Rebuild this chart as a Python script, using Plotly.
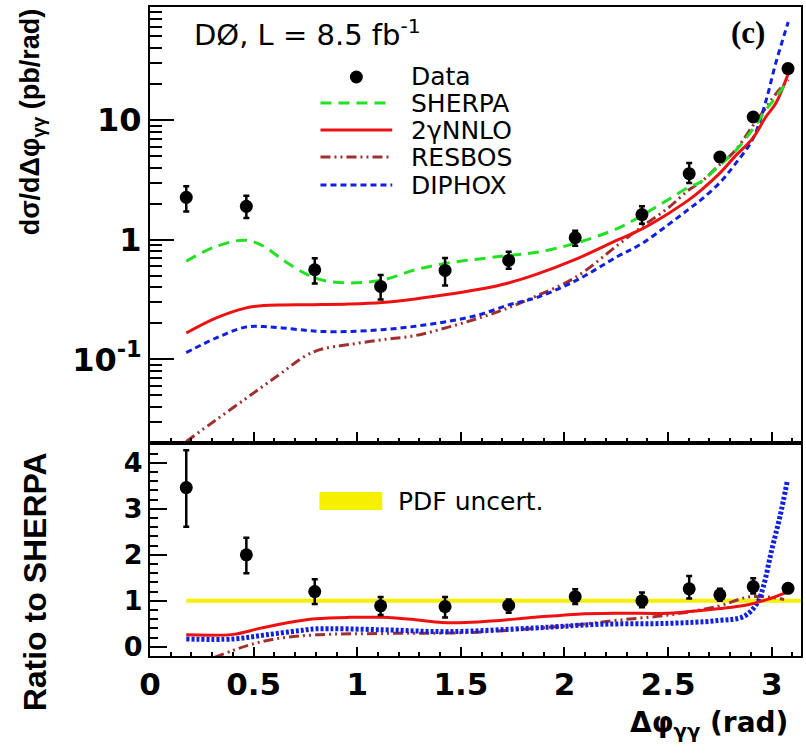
import math
import plotly.graph_objects as go

# ---- measured data: diphoton azimuthal separation ----
X_DATA = [0.175, 0.465, 0.795, 1.113, 1.424, 1.731, 2.052, 2.374, 2.602, 2.750, 2.911, 3.079]
XSEC = [2.26, 1.90, 0.561, 0.407, 0.554, 0.671, 1.04, 1.62, 3.56, 4.91, 10.6, 26.9]
XSEC_ERR_UP = [0.53, 0.43, 0.14, 0.10, 0.15, 0.12, 0.15, 0.28, 0.82, 0.45, 0.9, 1.5]
XSEC_ERR_DN = [0.54, 0.38, 0.13, 0.09, 0.14, 0.10, 0.15, 0.26, 0.58, 0.40, 0.8, 1.4]

RATIO = [3.46, 2.00, 1.20, 0.89, 0.875, 0.90, 1.09, 1.00, 1.26, 1.13, 1.31, 1.27]
RATIO_ERR_UP = [0.81, 0.37, 0.27, 0.19, 0.21, 0.13, 0.16, 0.18, 0.28, 0.13, 0.18, 0.08]
RATIO_ERR_DN = [0.85, 0.40, 0.27, 0.20, 0.24, 0.16, 0.16, 0.14, 0.21, 0.13, 0.15, 0.08]

# ---- theory predictions (pb/rad) ----
X_TH = [0.175, 0.32, 0.46, 0.55, 0.64, 0.75, 0.83, 0.96, 1.12, 1.28, 1.44, 1.59, 1.73,
        1.86, 2.05, 2.26, 2.37, 2.50, 2.60, 2.66, 2.75, 2.82, 2.91, 2.97, 3.02, 3.08]
SHERPA = [0.66, 0.88, 0.99, 0.88, 0.68, 0.52, 0.46, 0.435, 0.46, 0.56, 0.64, 0.69, 0.74,
          0.78, 0.93, 1.25, 1.58, 2.16, 2.75, 3.05, 4.2, 5.4, 8.4, 12.0, 15.5, 21.5]
NNLO = [0.166, 0.222, 0.268, 0.282, 0.285, 0.286, 0.287, 0.29, 0.299, 0.32, 0.35, 0.385, 0.435,
        0.51, 0.68, 1.0, 1.22, 1.65, 2.15, 2.6, 3.6, 4.9, 7.1, 10.5, 13.8, 24.5]
RESBOS = [0.0206, 0.0313, 0.0467, 0.0604, 0.0782, 0.107, 0.122, 0.133, 0.146, 0.158, 0.186, 0.222, 0.27,
          0.336, 0.48, 0.91, 1.27, 1.84, 2.6, 3.05, 4.24, 5.45, 9.0, 12.5, 16.5, 21.7]
DIPHOX = [0.114, 0.151, 0.186, 0.188, 0.183, 0.175, 0.171, 0.171, 0.177, 0.189, 0.208, 0.236, 0.285,
          0.326, 0.45, 0.73, 0.92, 1.33, 1.8, 2.16, 3.0, 4.2, 7.0, 14.0, 30.0, 66.0]

# ---- predictions relative to SHERPA ----
X_R_NNLO = [0.175, 0.40, 0.53, 0.67, 0.80, 0.96, 1.12, 1.28, 1.41, 1.585, 1.857, 2.065, 2.257,
            2.50, 2.657, 2.88, 2.98, 3.074]
R_NNLO = [0.26, 0.27, 0.40, 0.53, 0.61, 0.64, 0.64, 0.59, 0.53, 0.54, 0.64, 0.71, 0.73,
          0.73, 0.79, 0.91, 1.03, 1.19]
X_R_DIPHOX = [0.175, 0.40, 0.56, 0.72, 0.80, 1.12, 1.44, 1.857, 2.177, 2.50, 2.74, 2.866,
              2.93, 2.96, 3.00, 3.04, 3.075]
R_DIPHOX = [0.17, 0.17, 0.26, 0.35, 0.39, 0.37, 0.33, 0.41, 0.49, 0.51, 0.57, 0.66,
            0.95, 1.31, 2.1, 2.83, 3.59]
X_R_RESBOS = [0.31, 0.40, 0.48, 0.60, 0.80, 1.12, 1.54, 1.86, 2.065, 2.26, 2.50, 2.74, 2.90, 3.06]
R_RESBOS = [-0.23, -0.08, 0.04, 0.17, 0.26, 0.29, 0.31, 0.40, 0.48, 0.58, 0.69, 0.88, 1.09, 1.03]

# PDF uncertainty band around unity
PDF_X = [0.175, math.pi]
PDF_LO = [0.955, 0.955]
PDF_HI = [1.045, 1.045]

GREEN = "#22e022"
RED = "#ee1111"
BROWN = "#a03030"
BLUE = "#1020e0"
YELLOW = "#f5f000"

# pixel frame of the two stacked pads
W, H = 806, 755
L, R, T, B = 150, 803, 7, 656
SPLIT = 443


def px_x(p):
    return (p - L) / (R - L)


def px_y(p):
    return (B - p) / (B - T)


fig = go.Figure()

# ---- upper pad ----
fig.add_trace(go.Scatter(x=X_TH, y=RESBOS, mode="lines", line_shape="spline",
                         line=dict(color=BROWN, width=3, dash="10px,4px,2px,4px,2px,4px"),
                         xaxis="x", yaxis="y"))
fig.add_trace(go.Scatter(x=X_TH, y=DIPHOX, mode="lines", line_shape="spline",
                         line=dict(color=BLUE, width=3, dash="6px,4px"),
                         xaxis="x", yaxis="y"))
fig.add_trace(go.Scatter(x=X_TH, y=NNLO, mode="lines", line_shape="spline",
                         line=dict(color=RED, width=3), xaxis="x", yaxis="y"))
fig.add_trace(go.Scatter(x=X_TH, y=SHERPA, mode="lines", line_shape="spline",
                         line=dict(color=GREEN, width=3, dash="11px,7px"),
                         xaxis="x", yaxis="y"))
fig.add_trace(go.Scatter(x=X_DATA, y=XSEC, mode="markers",
                         marker=dict(color="black", size=13),
                         error_y=dict(type="data", array=XSEC_ERR_UP, arrayminus=XSEC_ERR_DN,
                                      color="black", thickness=2.5, width=3),
                         xaxis="x", yaxis="y"))

# ---- lower pad ----
fig.add_trace(go.Scatter(x=PDF_X, y=PDF_LO, mode="lines", line=dict(width=0, color=YELLOW),
                         xaxis="x2", yaxis="y2"))
fig.add_trace(go.Scatter(x=PDF_X, y=PDF_HI, mode="lines", line=dict(width=0, color=YELLOW),
                         fill="tonexty", fillcolor=YELLOW, xaxis="x2", yaxis="y2"))
fig.add_trace(go.Scatter(x=X_R_RESBOS, y=R_RESBOS, mode="lines", line_shape="spline",
                         line=dict(color=BROWN, width=3, dash="10px,4px,2px,4px,2px,4px"),
                         xaxis="x2", yaxis="y2"))
fig.add_trace(go.Scatter(x=X_R_DIPHOX, y=R_DIPHOX, mode="lines", line_shape="spline",
                         line=dict(color=BLUE, width=5, dash="3px,2px"),
                         xaxis="x2", yaxis="y2"))
fig.add_trace(go.Scatter(x=X_R_NNLO, y=R_NNLO, mode="lines", line_shape="spline",
                         line=dict(color=RED, width=3), xaxis="x2", yaxis="y2"))
fig.add_trace(go.Scatter(x=X_DATA, y=RATIO, mode="markers",
                         marker=dict(color="black", size=13),
                         error_y=dict(type="data", array=RATIO_ERR_UP, arrayminus=RATIO_ERR_DN,
                                      color="black", thickness=2.5, width=3),
                         xaxis="x2", yaxis="y2"))

split = px_y(SPLIT)
axis_common = dict(showline=True, mirror=True, linecolor="black", linewidth=2,
                   showgrid=False, zeroline=False, ticks="inside", tickcolor="black",
                   tickwidth=1.5)

fig.update_layout(
    width=W, height=H,
    margin=dict(l=L, r=W - R, t=T, b=H - B),
    paper_bgcolor="white", plot_bgcolor="white",
    showlegend=False,
    xaxis=dict(axis_common, domain=[0, 1], anchor="y", range=[0, math.pi],
               matches="x2", showticklabels=False, dtick=0.5, tick0=0, ticklen=11,
               minor=dict(ticks="inside", dtick=0.1, tick0=0, ticklen=5,
                          tickcolor="black", tickwidth=1.5)),
    yaxis=dict(axis_common, domain=[split, 1], anchor="x", type="log",
               range=[math.log10(0.02), math.log10(88)],
               tickmode="array", tickvals=[0.1, 1, 10],
               ticktext=["10<sup>-1</sup>", "1", "10"], ticklen=24,
               tickfont=dict(family="DejaVu Sans", size=32, weight="bold", color="black"),
               minor=dict(ticks="inside", ticklen=12, tickcolor="black", tickwidth=1.5,
                          tickmode="array",
                          tickvals=[0.02, 0.03, 0.04, 0.05, 0.06, 0.07, 0.08, 0.09,
                                    0.2, 0.3, 0.4, 0.5, 0.6, 0.7, 0.8, 0.9,
                                    2, 3, 4, 5, 6, 7, 8, 9,
                                    20, 30, 40, 50, 60, 70, 80])),
    xaxis2=dict(axis_common, domain=[0, 1], anchor="y2", range=[0, math.pi],
                ticklen=9, tickmode="array",
                tickvals=[0, 0.5, 1, 1.5, 2, 2.5, 3],
                ticktext=["0", "0.5", "1", "1.5", "2", "2.5", "3"],
                tickfont=dict(family="DejaVu Sans", size=31, weight="bold", color="black"),
                minor=dict(ticks="inside", dtick=0.1, tick0=0, ticklen=4,
                           tickcolor="black", tickwidth=1.5)),
    yaxis2=dict(axis_common, domain=[0, split], anchor="x2", range=[-0.2, 4.43],
                tickmode="array", tickvals=[0, 1, 2, 3, 4], ticklen=17,
                tickfont=dict(family="DejaVu Sans", size=27, weight="bold", color="black"),
                minor=dict(ticks="inside", dtick=0.2, tick0=0, ticklen=8,
                           tickcolor="black", tickwidth=1.5)),
)

ann = []


def text(x, y, s, size, family="DejaVu Sans", xanchor="left", angle=0, weight="normal"):
    ann.append(dict(xref="paper", yref="paper", x=px_x(x), y=px_y(y), text=s,
                    showarrow=False, xanchor=xanchor, yanchor="middle", textangle=angle,
                    font=dict(family=family, size=size, color="black", weight=weight)))


text(192, 33, "DØ, L = 8.5 fb<sup>-1</sup>", 29)
text(750, 32, "(c)", 31, family="Liberation Serif", xanchor="center", weight="bold")

# legend of the upper pad
LEG_X0, LEG_X1, LEG_TX = 321, 393, 410
rows = [("Data", 77), ("SHERPA", 103), ("2γNNLO", 130), ("RESBOS", 157), ("DIPHOX", 185)]
for label, yy in rows:
    text(LEG_TX, yy, label, 25)

shapes = []
styles = {"SHERPA": (GREEN, "11px,7px"), "2γNNLO": (RED, "solid"),
          "RESBOS": (BROWN, "10px,4px,2px,4px,2px,4px"), "DIPHOX": (BLUE, "6px,4px")}
for label, yy in rows[1:]:
    c, d = styles[label]
    shapes.append(dict(type="line", xref="paper", yref="paper",
                       x0=px_x(LEG_X0), x1=px_x(LEG_X1), y0=px_y(yy), y1=px_y(yy),
                       line=dict(color=c, width=3, dash=d)))
shapes.append(dict(type="circle", xref="paper", yref="paper",
                   x0=px_x(357 - 6.5), x1=px_x(357 + 6.5), y0=px_y(77 + 6.5), y1=px_y(77 - 6.5),
                   fillcolor="black", line=dict(color="black", width=0)))

# legend of the lower pad
shapes.append(dict(type="rect", xref="paper", yref="paper",
                   x0=px_x(320), x1=px_x(383), y0=px_y(510), y1=px_y(492),
                   fillcolor=YELLOW, line=dict(width=0)))
text(397, 501, "PDF uncert.", 25)

# axis titles
ann.append(dict(xref="paper", yref="paper", x=px_x(32), y=px_y(122),
                text="<b>dσ/dΔφ<sub>γγ</sub> (pb/rad)</b>", showarrow=False,
                xanchor="center", yanchor="middle", textangle=-90,
                font=dict(family="Liberation Sans", size=27, color="black")))
ann.append(dict(xref="paper", yref="paper", x=px_x(35), y=px_y(582),
                text="<b>Ratio to SHERPA</b>", showarrow=False,
                xanchor="center", yanchor="middle", textangle=-90,
                font=dict(family="Liberation Sans", size=32, color="black")))
ann.append(dict(xref="paper", yref="paper", x=px_x(792), y=px_y(724),
                text="<b>Δφ<sub>γγ</sub> (rad)</b>", showarrow=False,
                xanchor="right", yanchor="middle",
                font=dict(family="DejaVu Sans", size=28, color="black")))

fig.update_layout(annotations=ann, shapes=shapes)
fig.write_html("out.html")
